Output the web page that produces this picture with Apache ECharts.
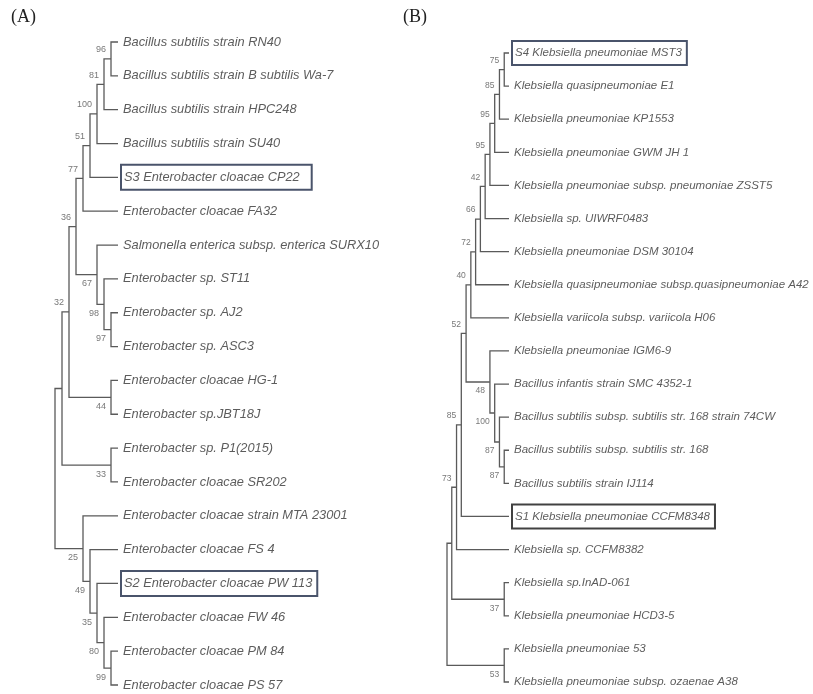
<!DOCTYPE html>
<html><head><meta charset="utf-8">
<script src="https://cdn.jsdelivr.net/npm/echarts@6/dist/echarts.min.js"></script>
<style>html,body{margin:0;padding:0;background:#fff}#c{width:813px;height:694px}</style>
</head><body><div id="c"></div>
<script>
// ---- Panel A data ----
const leavesA = [
  "Bacillus subtilis strain RN40",
  "Bacillus subtilis strain B subtilis Wa-7",
  "Bacillus subtilis strain HPC248",
  "Bacillus subtilis strain SU40",
  "S3 Enterobacter cloacae CP22",
  "Enterobacter cloacae FA32",
  "Salmonella enterica subsp. enterica SURX10",
  "Enterobacter sp. ST11",
  "Enterobacter sp. AJ2",
  "Enterobacter sp. ASC3",
  "Enterobacter cloacae HG-1",
  "Enterobacter sp.JBT18J",
  "Enterobacter sp. P1(2015)",
  "Enterobacter cloacae SR202",
  "Enterobacter cloacae strain MTA 23001",
  "Enterobacter cloacae FS 4",
  "S2 Enterobacter cloacae PW 113",
  "Enterobacter cloacae FW 46",
  "Enterobacter cloacae PM 84",
  "Enterobacter cloacae PS 57"
];
// [id, child1, child2, bootstrap]; number = leaf index, string = clade id
const cladesA = [
  ["a1", 0, 1, 96], ["a2", "a1", 2, 81], ["a3", "a2", 3, 100], ["a4", "a3", 4, 51], ["a5", "a4", 5, 77],
  ["a6", 8, 9, 97], ["a7", 7, "a6", 98], ["a8", 6, "a7", 67], ["a9", "a5", "a8", 36],
  ["a10", 10, 11, 44], ["a11", "a9", "a10", 32], ["a12", 12, 13, 33], ["a13", "a11", "a12", null],
  ["a14", 18, 19, 99], ["a15", 17, "a14", 80], ["a16", 16, "a15", 35], ["a17", 15, "a16", 49],
  ["a18", 14, "a17", 25], ["a19", "a13", "a18", null]
];
const boxedA = {
  "S3 Enterobacter cloacae CP22": { color: "#1d2946", padding: [6, 12, 6, 3] },
  "S2 Enterobacter cloacae PW 113": { color: "#1d2946", padding: [6, 5, 6, 3] }
};

// ---- Panel B data ----
const leavesB = [
  "S4 Klebsiella pneumoniae MST3",
  "Klebsiella quasipneumoniae E1",
  "Klebsiella pneumoniae KP1553",
  "Klebsiella pneumoniae GWM JH 1",
  "Klebsiella pneumoniae subsp. pneumoniae ZSST5",
  "Klebsiella sp. UIWRF0483",
  "Klebsiella pneumoniae DSM 30104",
  "Klebsiella quasipneumoniae subsp.quasipneumoniae A42",
  "Klebsiella variicola subsp. variicola H06",
  "Klebsiella pneumoniae IGM6-9",
  "Bacillus infantis strain SMC 4352-1",
  "Bacillus subtilis subsp. subtilis str. 168 strain 74CW",
  "Bacillus subtilis subsp. subtilis str. 168",
  "Bacillus subtilis strain IJ114",
  "S1 Klebsiella pneumoniae CCFM8348",
  "Klebsiella sp. CCFM8382",
  "Klebsiella sp.InAD-061",
  "Klebsiella pneumoniae HCD3-5",
  "Klebsiella pneumoniae 53",
  "Klebsiella pneumoniae subsp. ozaenae A38"
];
const cladesB = [
  ["b1", 0, 1, 75], ["b2", "b1", 2, 85], ["b3", "b2", 3, 95], ["b4", "b3", 4, 95], ["b5", "b4", 5, 42],
  ["b6", "b5", 6, 66], ["b7", "b6", 7, 72], ["b8", "b7", 8, 40],
  ["b9", 12, 13, 87], ["b10", 11, "b9", 87], ["b11", 10, "b10", 100], ["b12", 9, "b11", 48],
  ["b13", "b8", "b12", 52], ["b14", "b13", 14, 85], ["b15", "b14", 15, 73],
  ["b16", 16, 17, 37], ["b17", "b15", "b16", null], ["b18", 18, 19, 53], ["b19", "b17", "b18", null]
];
const boxedB = {
  "S4 Klebsiella pneumoniae MST3": { color: "#1d2946", padding: [6, 5, 6, 3] },
  "S1 Klebsiella pneumoniae CCFM8348": { color: "#111111", padding: [6, 5, 6, 3] }
};

const panelTitles = ["(A)", "(B)"];

// ---- layout computation from topology ----
function buildTree(leaves, clades) {
  const h = {}, y = {}, upper = {};
  const H = c => (typeof c === 'number' ? 0 : h[c]);
  const Y = c => (typeof c === 'number' ? c : y[c]);
  clades.forEach(([id, c1, c2]) => {
    h[id] = 1 + Math.max(H(c1), H(c2));
    y[id] = (Y(c1) + Y(c2)) / 2;
    const up = Y(c1) < Y(c2) ? c1 : c2;
    if (typeof up === 'string') upper[up] = true;
  });
  const brackets = clades.map(([id, c1, c2]) => [H(c1), Y(c1), h[id], Y(c1), h[id], Y(c2), H(c2), Y(c2)]);
  const boots = clades.filter(c => c[3] != null).map(([id, , , b]) => ({ value: [h[id], y[id]], b, up: !!upper[id] }));
  const maxH = Math.max(...Object.values(h));
  return { brackets, boots, maxH };
}

const TA = buildTree(leavesA, cladesA);
const TB = buildTree(leavesB, cladesB);

const lineColor = '#5a5a5a';

function treeSeries(T, idx) {
  return {
    type: 'custom', xAxisIndex: idx, yAxisIndex: idx, silent: true,
    data: T.brackets,
    encode: { x: [0, 2, 4, 6], y: [1, 3, 5, 7] },
    renderItem: (params, api) => {
      const pts = [];
      for (let k = 0; k < 4; k++) pts.push(api.coord([api.value(2 * k), api.value(2 * k + 1)]));
      return { type: 'polyline', shape: { points: pts }, style: { stroke: lineColor, lineWidth: 1.3, fill: null } };
    }
  };
}

function leafSeries(leaves, boxed, idx, fontSize) {
  return {
    type: 'scatter', xAxisIndex: idx, yAxisIndex: idx, symbolSize: 0, silent: true,
    data: leaves.map((name, i) => {
      const item = { value: [0, i], name };
      if (boxed[name]) {
        item.label = { borderColor: boxed[name].color, borderWidth: 2, padding: boxed[name].padding, distance: 3 };
      }
      return item;
    }),
    label: { show: true, position: 'right', distance: 5, formatter: p => p.name,
      fontFamily: 'Liberation Sans', fontStyle: 'italic', fontSize: fontSize, color: '#333' }
  };
}

function bootSeries(T, idx, fontSize, dy) {
  return {
    type: 'scatter', xAxisIndex: idx, yAxisIndex: idx, symbolSize: 0, silent: true,
    data: T.boots.map(d => ({
      value: d.value, name: String(d.b),
      label: { offset: [0, d.up ? -dy : dy] }
    })),
    label: { show: true, position: 'left', distance: 5, formatter: p => p.name,
      fontFamily: 'Liberation Sans', fontSize: fontSize, color: '#555' }
  };
}

const titleStyle = { fontFamily: 'Liberation Serif', fontSize: 18, fontWeight: 'normal', color: '#222' };
const chart = echarts.init(document.getElementById('c'), null, { renderer: 'canvas' });
chart.setOption({
  animation: false,
  backgroundColor: '#fff',
  title: [
    { text: panelTitles[0], left: 6, top: 3, textStyle: titleStyle },
    { text: panelTitles[1], left: 398, top: 3, textStyle: titleStyle }
  ],
  grid: [
    { left: 55, top: 42, width: 63, height: 643 },
    { left: 447, top: 53, width: 62, height: 629 }
  ],
  xAxis: [
    { type: 'value', gridIndex: 0, min: 0, max: TA.maxH, inverse: true, show: false },
    { type: 'value', gridIndex: 1, min: 0, max: TB.maxH, inverse: true, show: false }
  ],
  yAxis: [
    { type: 'value', gridIndex: 0, min: 0, max: leavesA.length - 1, inverse: true, show: false },
    { type: 'value', gridIndex: 1, min: 0, max: leavesB.length - 1, inverse: true, show: false }
  ],
  series: [
    treeSeries(TA, 0), leafSeries(leavesA, boxedA, 0, 12.8), bootSeries(TA, 0, 9, 9),
    treeSeries(TB, 1), leafSeries(leavesB, boxedB, 1, 11.5), bootSeries(TB, 1, 8.5, 9)
  ]
});
</script></body></html>
